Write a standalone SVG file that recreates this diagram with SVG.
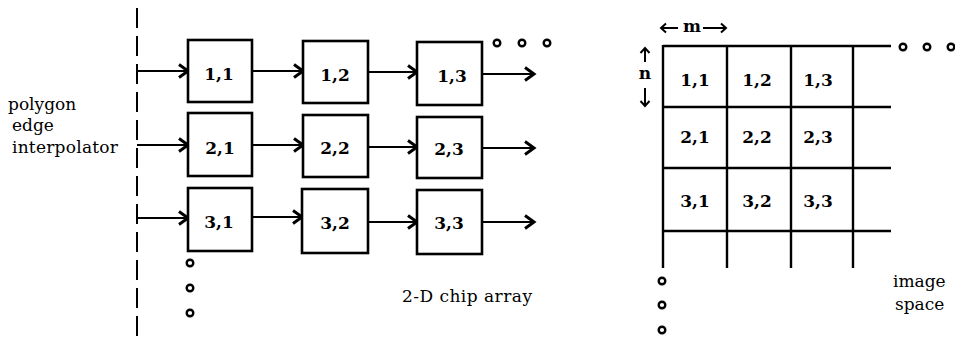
<svg xmlns="http://www.w3.org/2000/svg" width="955" height="338" viewBox="0 0 955 338">
<defs>
<style>
.box{fill:#fff;stroke:#000;stroke-width:2.6}
.ln{stroke:#000;stroke-width:2;fill:none}
.arr{stroke:#000;stroke-width:2;fill:none;marker-end:url(#ah)}
.dot{fill:none;stroke:#000;stroke-width:2.4}
.lbl{font-family:"DejaVu Serif","Liberation Serif",serif;font-size:17px;font-weight:bold;text-anchor:middle}
.txt{font-family:"DejaVu Serif","Liberation Serif",serif;font-size:17px}
.g{stroke:#000;stroke-width:2.4;fill:none}
</style>
<marker id="ah" markerUnits="userSpaceOnUse" markerWidth="16" markerHeight="16" refX="11" refY="8" orient="auto" overflow="visible">
<path d="M2,1.5 L11,8 L2,14.5" fill="none" stroke="#000" stroke-width="3"/>
</marker>
</defs>
<g id="interpolator">
<line x1="137" y1="8" x2="137" y2="338" stroke="#000" stroke-width="2" stroke-dasharray="20 8"/>
<text class="txt" x="8" y="110">polygon</text>
<text class="txt" x="12" y="131">edge</text>
<text class="txt" x="12" y="153" textLength="106">interpolator</text>
</g>
<g id="connectors">
<line class="arr" x1="137" y1="71" x2="188" y2="71"/>
<line class="arr" x1="252" y1="71" x2="303" y2="71"/>
<line class="arr" x1="368" y1="72" x2="417" y2="72"/>
<line class="arr" x1="482" y1="74" x2="534" y2="74"/>
<line class="arr" x1="137" y1="145" x2="188" y2="145"/>
<line class="arr" x1="252" y1="145" x2="303" y2="145"/>
<line class="arr" x1="368" y1="147" x2="417" y2="147"/>
<line class="arr" x1="482" y1="148" x2="534" y2="148"/>
<line class="arr" x1="137" y1="218" x2="188" y2="218"/>
<line class="arr" x1="252" y1="217" x2="302" y2="217"/>
<line class="arr" x1="368" y1="222" x2="417" y2="222"/>
<line class="arr" x1="482" y1="222" x2="534" y2="222"/>
</g>
<g id="n11"><rect class="box" x="188" y="40" width="64" height="62"/><text class="lbl" x="219" y="80">1,1</text></g>
<g id="n12"><rect class="box" x="303" y="41" width="65" height="62"/><text class="lbl" x="335" y="81">1,2</text></g>
<g id="n13"><rect class="box" x="417" y="42" width="65" height="63"/><text class="lbl" x="452" y="82">1,3</text></g>
<g id="n21"><rect class="box" x="188" y="113" width="64" height="63"/><text class="lbl" x="220" y="154">2,1</text></g>
<g id="n22"><rect class="box" x="303" y="115" width="65" height="62"/><text class="lbl" x="335" y="154">2,2</text></g>
<g id="n23"><rect class="box" x="417" y="117" width="65" height="61"/><text class="lbl" x="449" y="155">2,3</text></g>
<g id="n31"><rect class="box" x="188" y="188" width="64" height="63"/><text class="lbl" x="219" y="228" font-weight="normal">3,1</text></g>
<g id="n32"><rect class="box" x="302" y="189" width="66" height="64"/><text class="lbl" x="335" y="229">3,2</text></g>
<g id="n33"><rect class="box" x="417" y="190" width="65" height="64"/><text class="lbl" x="449" y="229">3,3</text></g>
<g id="chipdots">
<circle class="dot" cx="497" cy="43" r="3.3"/>
<circle class="dot" cx="522" cy="43" r="3.3"/>
<circle class="dot" cx="547" cy="43" r="3.3"/>
<circle class="dot" cx="190" cy="263" r="3.3"/>
<circle class="dot" cx="190" cy="288" r="3.3"/>
<circle class="dot" cx="190" cy="313" r="3.3"/>
<text class="txt" x="402" y="302" textLength="130">2-D chip array</text>
</g>
<g id="imagespace">
<line class="g" x1="663" y1="46" x2="891" y2="46"/>
<line class="g" x1="663" y1="107" x2="891" y2="107"/>
<line class="g" x1="663" y1="168" x2="891" y2="168"/>
<line class="g" x1="663" y1="231" x2="891" y2="231"/>
<line class="g" x1="663" y1="45" x2="663" y2="268"/>
<line class="g" x1="727" y1="46" x2="727" y2="268"/>
<line class="g" x1="791" y1="46" x2="791" y2="268"/>
<line class="g" x1="853" y1="46" x2="853" y2="268"/>
<text class="lbl" x="695" y="86">1,1</text>
<text class="lbl" x="757" y="86">1,2</text>
<text class="lbl" x="818" y="86">1,3</text>
<text class="lbl" x="695" y="143">2,1</text>
<text class="lbl" x="757" y="143">2,2</text>
<text class="lbl" x="818" y="143">2,3</text>
<text class="lbl" x="695" y="207">3,1</text>
<text class="lbl" x="757" y="207">3,2</text>
<text class="lbl" x="818" y="207">3,3</text>
<circle class="dot" cx="903" cy="47" r="3.3"/>
<circle class="dot" cx="927" cy="47" r="3.3"/>
<circle class="dot" cx="951" cy="47" r="3.3"/>
<circle class="dot" cx="662" cy="281" r="3.3"/>
<circle class="dot" cx="662" cy="305" r="3.3"/>
<circle class="dot" cx="662" cy="330" r="3.3"/>
<text class="txt" x="893" y="287">image</text>
<text class="txt" x="895" y="310">space</text>
</g>
<g id="dims">
<path class="ln" d="M678,28 L661,28 M666,23.5 L661,28 L666,32.5"/>
<text class="lbl" x="692" y="32" font-weight="normal">m</text>
<path class="ln" d="M703,28 L726,28 M721,23.5 L726,28 L721,32.5"/>
<path class="ln" d="M645,62 L645,48 M640.5,53 L645,48 L649.5,53"/>
<text class="lbl" x="645" y="79" font-weight="normal">n</text>
<path class="ln" d="M645,88 L645,106 M640.5,101 L645,106 L649.5,101"/>
</g>
</svg>
